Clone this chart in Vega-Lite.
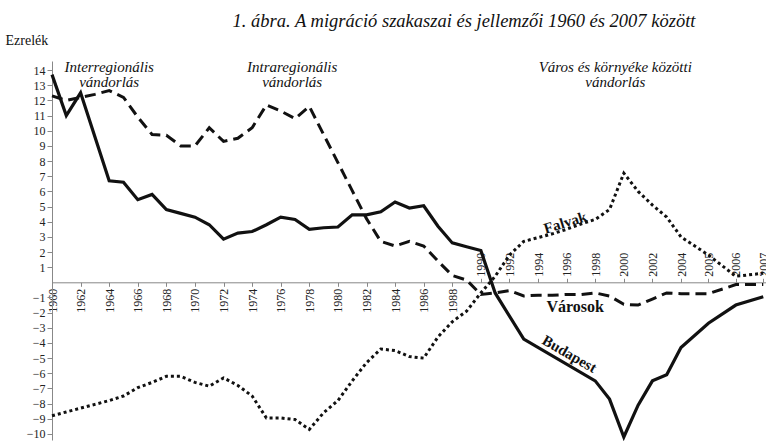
{
  "$schema": "https://vega.github.io/schema/vega-lite/v6.json",
  "width": 714,
  "height": 379,
  "autosize": "none",
  "padding": {"left": 52, "top": 61, "right": 0, "bottom": 5},
  "background": "white",
  "config": {
    "view": {"stroke": null},
    "font": "Liberation Serif",
    "text": {"font": "Liberation Serif"},
    "axis": {"labelFont": "Liberation Serif", "labelFontSize": 12, "labelColor": "#222", "domainColor": "#888", "tickColor": "#888", "grid": false, "titleFont": "Liberation Serif", "labelOverlap": false},
    "axisY": {"labelOverlap": false, "labelFont": "Liberation Serif"}
  },
  "title": {
    "text": "1. ábra. A migráció szakaszai és jellemzői 1960 és 2007 között",
    "font": "Liberation Serif",
    "fontStyle": "italic",
    "fontWeight": "normal",
    "fontSize": 18.5,
    "color": "#111",
    "anchor": "middle",
    "frame": "group",
    "offset": 3,
    "dx": 55
  },
  "datasets": {
    "bp": [
      {"year": 1960, "value": 13.7}, {"year": 1961, "value": 11.0}, {"year": 1962, "value": 12.5},
      {"year": 1964, "value": 6.7}, {"year": 1965, "value": 6.6}, {"year": 1966, "value": 5.45},
      {"year": 1967, "value": 5.8}, {"year": 1968, "value": 4.8}, {"year": 1969, "value": 4.55},
      {"year": 1970, "value": 4.3}, {"year": 1971, "value": 3.8}, {"year": 1972, "value": 2.85},
      {"year": 1973, "value": 3.25}, {"year": 1974, "value": 3.35}, {"year": 1975, "value": 3.8},
      {"year": 1976, "value": 4.3}, {"year": 1977, "value": 4.15}, {"year": 1978, "value": 3.5},
      {"year": 1979, "value": 3.6}, {"year": 1980, "value": 3.65}, {"year": 1981, "value": 4.45},
      {"year": 1982, "value": 4.45}, {"year": 1983, "value": 4.65}, {"year": 1984, "value": 5.3},
      {"year": 1985, "value": 4.9}, {"year": 1986, "value": 5.05}, {"year": 1987, "value": 3.7},
      {"year": 1988, "value": 2.6}, {"year": 1989, "value": 2.35}, {"year": 1990, "value": 2.1},
      {"year": 1991, "value": -0.7}, {"year": 1993, "value": -3.75}, {"year": 1998, "value": -6.5},
      {"year": 1999, "value": -7.7}, {"year": 2000, "value": -10.2}, {"year": 2001, "value": -8.1},
      {"year": 2002, "value": -6.5}, {"year": 2003, "value": -6.1}, {"year": 2004, "value": -4.3},
      {"year": 2005, "value": -2.7}, {"year": 2006, "value": -1.5}, {"year": 2007, "value": -0.95}
    ],
    "varos": [
      {"year": 1960, "value": 12.3}, {"year": 1961, "value": 12.0}, {"year": 1962, "value": 12.2},
      {"year": 1963, "value": 12.4}, {"year": 1964, "value": 12.65}, {"year": 1965, "value": 12.2},
      {"year": 1966, "value": 10.9}, {"year": 1967, "value": 9.75}, {"year": 1968, "value": 9.7},
      {"year": 1969, "value": 9.0}, {"year": 1970, "value": 9.0}, {"year": 1971, "value": 10.2},
      {"year": 1972, "value": 9.3}, {"year": 1973, "value": 9.5}, {"year": 1974, "value": 10.2},
      {"year": 1975, "value": 11.7}, {"year": 1976, "value": 11.3}, {"year": 1977, "value": 10.8},
      {"year": 1978, "value": 11.6}, {"year": 1979, "value": 9.75}, {"year": 1980, "value": 7.9},
      {"year": 1981, "value": 6.05}, {"year": 1982, "value": 4.2}, {"year": 1983, "value": 2.7},
      {"year": 1984, "value": 2.4}, {"year": 1985, "value": 2.7}, {"year": 1986, "value": 2.4},
      {"year": 1987, "value": 1.4}, {"year": 1988, "value": 0.45}, {"year": 1989, "value": 0.15},
      {"year": 1990, "value": -0.8}, {"year": 1991, "value": -0.7}, {"year": 1992, "value": -0.55},
      {"year": 1993, "value": -0.9}, {"year": 1994, "value": -0.85}, {"year": 1995, "value": -0.85},
      {"year": 1996, "value": -0.8}, {"year": 1997, "value": -0.8}, {"year": 1998, "value": -0.7},
      {"year": 1999, "value": -0.9}, {"year": 2000, "value": -1.45}, {"year": 2001, "value": -1.5},
      {"year": 2002, "value": -1.1}, {"year": 2003, "value": -0.7}, {"year": 2004, "value": -0.75},
      {"year": 2005, "value": -0.75}, {"year": 2006, "value": -0.15}, {"year": 2007, "value": -0.15}
    ],
    "falu": [
      {"year": 1960, "value": -8.8}, {"year": 1961, "value": -8.55}, {"year": 1962, "value": -8.3},
      {"year": 1963, "value": -8.05}, {"year": 1964, "value": -7.8}, {"year": 1965, "value": -7.5},
      {"year": 1966, "value": -6.95}, {"year": 1967, "value": -6.6}, {"year": 1968, "value": -6.2},
      {"year": 1969, "value": -6.2}, {"year": 1970, "value": -6.6}, {"year": 1971, "value": -6.85},
      {"year": 1972, "value": -6.3}, {"year": 1973, "value": -6.8}, {"year": 1974, "value": -7.5},
      {"year": 1975, "value": -8.95}, {"year": 1976, "value": -8.95}, {"year": 1977, "value": -9.05},
      {"year": 1978, "value": -9.7}, {"year": 1979, "value": -8.6}, {"year": 1980, "value": -7.8},
      {"year": 1981, "value": -6.5}, {"year": 1982, "value": -5.3}, {"year": 1983, "value": -4.4},
      {"year": 1984, "value": -4.5}, {"year": 1985, "value": -4.9}, {"year": 1986, "value": -5.0},
      {"year": 1987, "value": -3.6}, {"year": 1988, "value": -2.6}, {"year": 1989, "value": -1.9},
      {"year": 1990, "value": -0.7}, {"year": 1991, "value": 0.4}, {"year": 1992, "value": 1.8},
      {"year": 1993, "value": 2.7}, {"year": 1994, "value": 2.95}, {"year": 1995, "value": 3.2},
      {"year": 1996, "value": 3.5}, {"year": 1997, "value": 3.85}, {"year": 1998, "value": 4.15},
      {"year": 1999, "value": 4.8}, {"year": 2000, "value": 7.2}, {"year": 2001, "value": 6.0},
      {"year": 2002, "value": 5.1}, {"year": 2003, "value": 4.3}, {"year": 2004, "value": 3.0},
      {"year": 2005, "value": 1.8}, {"year": 2006, "value": 0.4}, {"year": 2007, "value": 0.6}
    ],
    "phases": [
      {"year": 1964.0, "value": 14.65, "label": "Interregionális\nvándorlás"},
      {"year": 1976.8, "value": 14.65, "label": "Intraregionális\nvándorlás"},
      {"year": 1999.4, "value": 14.65, "label": "Város és környéke közötti\nvándorlás"}
    ]
  },
  "encoding": {
    "y": {"field": "value", "type": "quantitative",
      "scale": {"domain": [-10.4, 14.6], "nice": false, "zero": false},
      "axis": {"values": [-10,-9,-8,-7,-6,-5,-4,-3,-2,-1,1,2,3,4,5,6,7,8,9,10,11,12,13,14], "tickSize": 5, "labelPadding": 2,
        "labelOverlap": false, "labelFont": "Liberation Serif", "labelFontSize": 12,
        "title": "Ezrelék", "titleAngle": 0, "titleAlign": "left", "titleBaseline": "middle", "titleX": -47, "titleY": -21,
        "titleFont": "Liberation Serif", "titleFontSize": 14, "titleFontWeight": "normal", "titleColor": "#111"}}
  },
  "resolve": {"axis": {"x": "independent"}},
  "layer": [
    {
      "data": {"name": "bp"},
      "mark": {"type": "line", "color": "#111", "strokeWidth": 3.2, "clip": false},
      "encoding": {
        "x": {"field": "year", "type": "quantitative",
          "scale": {"domain": [1960, 2004, 2007.1], "range": [0, 629, 714], "nice": false, "zero": false},
          "axis": {"orient": "bottom", "offset": -157.7, "values": [1960,1962,1964,1966,1968,1970,1972,1974,1976,1978,1980,1982,1984,1986,1988],
            "format": "d", "labelAngle": -90, "tickSize": 4, "labelPadding": 2, "labelFlush": false, "labelOverlap": false,
            "labelFont": "Liberation Serif", "title": null}}
      }
    },
    {
      "data": {"name": "varos"},
      "mark": {"type": "line", "color": "#111", "strokeWidth": 3, "strokeDash": [11, 6]},
      "encoding": {
        "x": {"field": "year", "type": "quantitative",
          "scale": {"domain": [1960, 2004, 2007.1], "range": [0, 629, 714], "nice": false, "zero": false},
          "axis": {"orient": "top", "offset": -221.3, "domain": false, "values": [1990,1992,1994,1996,1998,2000,2002,2004,2005,2006,2007],
            "format": "d", "labelAngle": -90, "tickSize": 4, "labelPadding": 2, "labelFlush": false, "labelOverlap": false,
            "labelFont": "Liberation Serif", "title": null}}
      }
    },
    {
      "data": {"name": "falu"},
      "mark": {"type": "line", "color": "#111", "strokeWidth": 3, "strokeDash": [3, 3]},
      "encoding": {
        "x": {"field": "year", "type": "quantitative", "axis": null}
      }
    },
    {
      "data": {"name": "phases"},
      "mark": {"type": "text", "font": "Liberation Serif", "fontStyle": "italic", "fontSize": 15, "lineBreak": "\n", "lineHeight": 15, "baseline": "top", "align": "center", "color": "#111"},
      "encoding": {
        "x": {"field": "year", "type": "quantitative", "axis": null},
        "text": {"field": "label"}
      }
    },
    {
      "data": {"values": [{"year": 1995.9, "value": 3.95, "label": "Falvak"}]},
      "mark": {"type": "text", "font": "Liberation Serif", "fontWeight": "bold", "fontSize": 15, "angle": 343, "align": "center", "baseline": "middle", "color": "#111"},
      "encoding": {
        "x": {"field": "year", "type": "quantitative", "axis": null},
        "text": {"field": "label"}
      }
    },
    {
      "data": {"values": [{"year": 1996.6, "value": -1.64, "label": "Városok"}]},
      "mark": {"type": "text", "font": "Liberation Serif", "fontWeight": "bold", "fontSize": 16, "align": "center", "baseline": "middle", "color": "#111"},
      "encoding": {
        "x": {"field": "year", "type": "quantitative", "axis": null},
        "text": {"field": "label"}
      }
    },
    {
      "data": {"values": [{"year": 1996.2, "value": -4.72, "label": "Budapest"}]},
      "mark": {"type": "text", "font": "Liberation Serif", "fontWeight": "bold", "fontSize": 15, "angle": 30, "align": "center", "baseline": "middle", "color": "#111"},
      "encoding": {
        "x": {"field": "year", "type": "quantitative", "axis": null},
        "text": {"field": "label"}
      }
    }
  ]
}
